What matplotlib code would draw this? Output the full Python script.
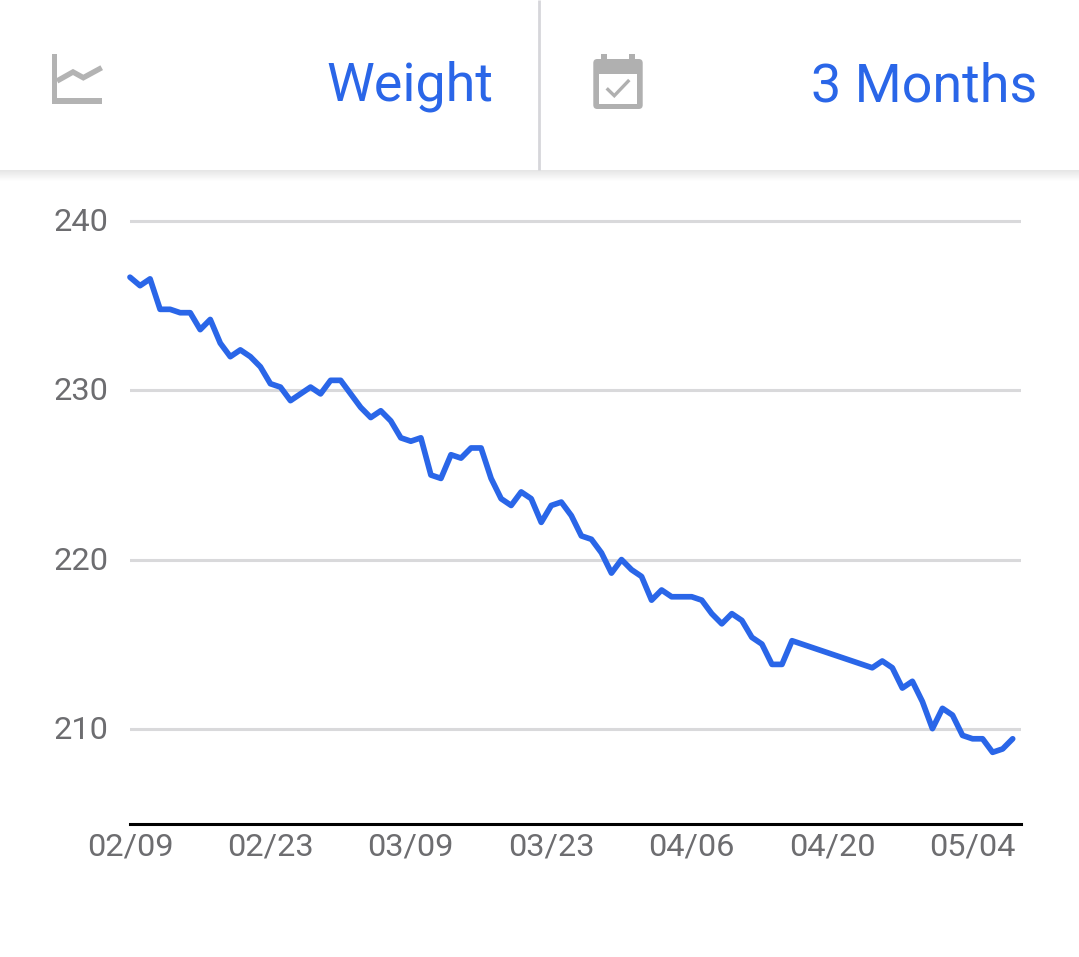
import matplotlib.pyplot as plt
from matplotlib.patches import FancyBboxPatch, Rectangle
from matplotlib.transforms import ScaledTranslation
import numpy as np

plt.rcParams["font.family"] = ["Roboto", "DejaVu Sans"]

W, H = 1079, 957
BLUE = "#2a66e8"
ICON = "#b0b0b0"
TEXT = "#6d6d70"

# days since 02/09, no entries between day 66 and day 74
days = list(range(67)) + list(range(74, 89))
weight = [
    236.7, 236.2, 236.6, 234.8, 234.8, 234.6, 234.6, 233.6, 234.2, 232.8,
    232.0, 232.4, 232.0, 231.4, 230.4, 230.2, 229.4, 229.8, 230.2, 229.8,
    230.6, 230.6, 229.8, 229.0, 228.4, 228.8, 228.2, 227.2, 227.0, 227.2,
    225.0, 224.8, 226.2, 226.0, 226.6, 226.6, 224.8, 223.6, 223.2, 224.0,
    223.6, 222.2, 223.2, 223.4, 222.6, 221.4, 221.2, 220.4, 219.2, 220.0,
    219.4, 219.0, 217.6, 218.2, 217.8, 217.8, 217.8, 217.6, 216.8, 216.2,
    216.8, 216.4, 215.4, 215.0, 213.8, 213.8, 215.2,
    213.6, 214.0, 213.6, 212.4, 212.8, 211.6, 210.0, 211.2, 210.8, 209.6,
    209.4, 209.4, 208.6, 208.8, 209.4,
]
tick_days = [0, 14, 28, 42, 56, 70, 84]
tick_labels = ["02/09", "02/23", "03/09", "03/23", "04/06", "04/20", "05/04"]
y_ticks = [210, 220, 230, 240]

fig = plt.figure(figsize=(W / 100, H / 100), dpi=100, facecolor="white")

# chart area, placed from pixel positions
left, right, top, bottom = 130, 1021, 204.5, 824
ax = fig.add_axes([left / W, 1 - bottom / H, (right - left) / W, (bottom - top) / H])
ax.plot(days, weight, color=BLUE, lw=4.1, solid_joinstyle="round", solid_capstyle="round", clip_on=False, zorder=3)
ax.set_xlim(0, 88.83)
ax.set_ylim(204.36, 241)
ax.set_xticks(tick_days, tick_labels)
ax.set_yticks(y_ticks)
ax.tick_params(axis="both", length=0, labelsize=23.4, labelcolor=TEXT)
ax.tick_params(axis="x", pad=6)
ax.tick_params(axis="y", pad=15.3)
# y labels sit a little above their grid lines
for lab in ax.get_yticklabels():
    lab.set_transform(lab.get_transform() + ScaledTranslation(0, 1.5 / 100, fig.dpi_scale_trans))
ax.grid(axis="y", color="#d9d9db", lw=2.2)
ax.set_axisbelow(True)
for s in ["top", "left", "right"]:
    ax.spines[s].set_visible(False)
ax.spines["bottom"].set_linewidth(2.2)
ax.spines["bottom"].set_color("black")

# header drawn in pixel coordinates
hdr = fig.add_axes([0, 0, 1, 1], facecolor="none")
hdr.set_xlim(0, W)
hdr.set_ylim(H, 0)
hdr.axis("off")

# shadow under the header
shade = np.linspace(0.9, 1, 12).reshape(-1, 1)
hdr.imshow(shade, extent=(0, W, 182, 170), cmap="gray", vmin=0, vmax=1, aspect="auto", interpolation="bilinear")
hdr.set_xlim(0, W)
hdr.set_ylim(H, 0)

hdr.plot([538.5, 538.5], [0, 170], color="#d6d6da", lw=2, solid_capstyle="butt")

hdr.text(493, 81, "Weight", color=BLUE, fontsize=38.8, ha="right", va="center_baseline")
hdr.text(1037, 81, "3 Months", color=BLUE, fontsize=38.8, ha="right", va="center_baseline")

# chart icon
hdr.add_patch(Rectangle((52, 54), 5.3, 49.7, color="#b3b3b3", lw=0))
hdr.add_patch(Rectangle((52, 98), 49.7, 5.7, color="#b3b3b3", lw=0))
hdr.plot([57, 73, 83.3, 101.7], [81, 72, 77.7, 67.7], color="#b3b3b3", lw=3.9, solid_joinstyle="miter", solid_capstyle="butt")

# calendar icon
hdr.add_patch(FancyBboxPatch((596.3, 62), 43.4, 44, boxstyle="round,pad=3,rounding_size=4", fc=ICON, ec="none"))
hdr.add_patch(Rectangle((601, 54.3), 5.7, 6, color=ICON, lw=0))
hdr.add_patch(Rectangle((629, 54.3), 5.5, 6, color=ICON, lw=0))
hdr.add_patch(Rectangle((599, 74.3), 38.3, 29.7, color="white", lw=0))
hdr.plot([606.7, 614.3, 629.3], [88.3, 95.7, 80], color=ICON, lw=2.4, solid_joinstyle="miter", solid_capstyle="butt")

fig.savefig("out.png", dpi=100)
